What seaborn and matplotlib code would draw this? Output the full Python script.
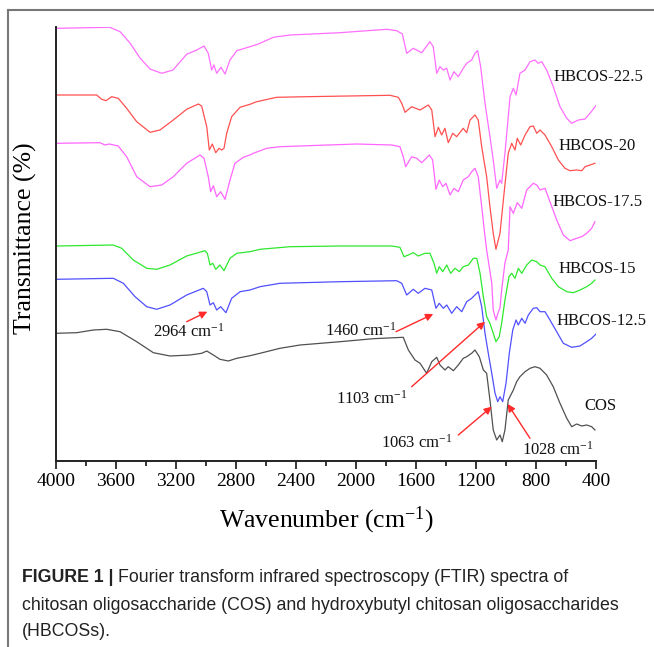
import matplotlib
matplotlib.use("Agg")
import matplotlib.pyplot as plt
import seaborn as sns
import pandas as pd
from matplotlib.lines import Line2D

# ---------------- data (wavenumber cm-1, stacked transmittance a.u.) ----------------
hb225_wn = [4000, 3640, 3573, 3507, 3440, 3373, 3295, 3220, 3129, 3062, 3013, 2985, 2962, 2947, 2929, 2900, 2873,
            2840, 2795, 2707, 2651, 2551, 2440, 2107, 1795, 1729, 1691, 1662, 1618, 1562, 1507, 1485, 1462, 1440,
            1418, 1395, 1373, 1347, 1318, 1285, 1262, 1229, 1207, 1189, 1169, 1140, 1107, 1085, 1062, 1040, 1029,
            1007, 973, 951, 933, 907, 873, 840, 807, 785, 762, 729, 685, 640, 595, 562, 518, 473, 440, 402]
hb225_t = [432.7, 433.7, 429.3, 418, 403, 392, 387.7, 391, 406.7, 411, 415, 407.7, 391, 396, 387.7, 393.7, 387,
           401, 410.3, 414.3, 417, 423.7, 426, 428.3, 431.7, 430.3, 427, 407.7, 412.7, 408.3, 419.3, 414.3, 387.7, 394.3,
           391, 392.7, 381, 389.3, 384.3, 392.7, 397.7, 401, 407.7, 410.3, 394.3, 357.7, 324.3, 301, 272.7, 281, 277.7,
           307.7, 364.3, 372.7, 366, 387.7, 391, 399.3, 401, 397.7, 399.3, 391, 374.3, 354.3, 342.7, 337.7, 341, 342, 347.7, 355]

hb20_wn = [4000, 3729, 3695, 3667, 3629, 3585, 3529, 3462, 3373, 3307, 3218, 3129, 3051, 3029, 2995, 2978, 2958, 2935,
           2913, 2895, 2880, 2862, 2829, 2773, 2707, 2662, 2529, 2329, 1773, 1718, 1695, 1673, 1629, 1573, 1518, 1495,
           1473, 1451, 1429, 1407, 1385, 1355, 1329, 1285, 1262, 1240, 1207, 1185, 1162, 1129, 1107, 1085, 1067, 1040,
           1013, 985, 962, 940, 925, 902, 873, 840, 818, 795, 773, 740, 695, 651, 607, 573, 529, 495, 473, 440, 407]
hb20_t = [366, 366, 361.7, 360.3, 364.3, 362.7, 352.7, 339.3, 328.7, 331, 341, 351.7, 357, 355, 334.3, 311, 317, 308.3,
          312.7, 311, 312.7, 327.7, 344.3, 353.7, 356.7, 359.3, 363.7, 364.3, 365.7, 363.7, 357.7, 348.7, 354.3, 351, 356, 351,
          324.3, 333.7, 326, 332.7, 318.3, 327.7, 324.3, 332.7, 328.3, 341, 346, 341, 314.3, 284.3, 254.3, 227.7, 211.7, 227.7,
          267.7, 307.7, 317.7, 311, 322.7, 316, 326, 334.3, 335, 327.7, 331, 326, 314.3, 301, 292.7, 290.3, 291, 290.3, 294.3, 296, 297.7]

hb175_wn = [4000, 3707, 3673, 3645, 3585, 3529, 3462, 3373, 3295, 3218, 3129, 3040, 3013, 2985, 2969, 2951, 2929, 2902,
            2873, 2840, 2807, 2751, 2707, 2685, 2595, 2507, 1995, 1762, 1707, 1685, 1669, 1629, 1595, 1562, 1511, 1489,
            1467, 1445, 1422, 1400, 1373, 1347, 1318, 1285, 1251, 1229, 1207, 1185, 1162, 1140, 1129, 1095, 1085, 1067,
            1051, 1040, 1029, 1007, 985, 973, 951, 925, 895, 862, 818, 795, 773, 740, 707, 662, 618, 573, 529, 495, 462, 429, 407]
hb175_t = [317.7, 318.3, 316, 317, 315, 304.3, 284.3, 274.3, 276, 284.3, 297.7, 306, 302.7, 284.3, 269.3, 275.3, 264.3, 269.3,
           261.7, 281, 297.7, 303.7, 306, 307.7, 312.7, 314.3, 317, 316, 314.3, 304.3, 294.3, 304.3, 302.7, 298.3, 306, 301,
           271.7, 281, 274.3, 277.7, 266, 272.7, 269.3, 281, 284.3, 289.3, 292.7, 284.3, 254.3, 224.3, 211, 178, 151, 141,
           149.3, 153, 171, 198, 211, 254.3, 247.7, 258.3, 252.7, 271, 277.7, 276, 271, 272.7, 259.3, 241, 226, 220.3, 222.7, 224.3, 227.7, 232.7, 239.3]

hb15_wn = [4000, 3618, 3562, 3485, 3395, 3329, 3240, 3129, 3007, 2991, 2973, 2955, 2935, 2907, 2880, 2840, 2795, 2707,
           2640, 2440, 2107, 1762, 1707, 1680, 1651, 1618, 1585, 1540, 1507, 1480, 1462, 1445, 1422, 1395, 1369, 1340,
           1311, 1285, 1251, 1218, 1195, 1173, 1151, 1129, 1107, 1085, 1067, 1045, 1029, 1007, 980, 962, 940, 918, 895,
           862, 829, 795, 773, 740, 695, 651, 595, 551, 507, 462, 429, 407]
hb15_t = [215, 216, 212.7, 201, 192.7, 191.7, 196, 205, 210.3, 207.7, 196, 197.7, 191.7, 196, 190.3, 202.7, 207.7, 209.3,
          211.7, 214.3, 215, 215, 213.7, 204.3, 206, 208.3, 205, 207.7, 207.7, 197.7, 187.7, 194.3, 189.3, 196, 187.7, 192.7,
          189.3, 194.3, 196, 202.7, 202.7, 187.7, 164.3, 144.3, 137.7, 127.7, 119.3, 124.3, 137.7, 161, 184.3, 187.7, 182.7, 192.7, 187.7,
          196, 201, 199.3, 196, 194.3, 182.7, 174.3, 169.3, 168.3, 171, 174.3, 177.7, 181]

hb125_wn = [4000, 3618, 3551, 3473, 3395, 3329, 3240, 3129, 3018, 2995, 2973, 2951, 2929, 2902, 2867, 2829, 2773, 2707,
            2640, 2507, 2107, 1729, 1695, 1662, 1618, 1585, 1540, 1495, 1467, 1445, 1418, 1395, 1362, 1329, 1295, 1262,
            1229, 1185, 1162, 1140, 1118, 1095, 1073, 1055, 1040, 1022, 1000, 978, 955, 933, 918, 895, 873, 851, 818, 795,
            773, 740, 707, 662, 618, 562, 507, 462, 429, 400]
hb125_t = [181.7, 182.7, 177.7, 164.3, 154.3, 151.7, 156, 166, 172.7, 169.3, 156, 158.3, 151, 154.3, 148.3, 162.7, 169.3, 171,
           174.3, 177.7, 179.3, 180.3, 177.7, 166, 171.7, 167.7, 172.7, 171, 152.7, 157.7, 152.7, 156, 147.7, 154.3, 149.3, 159.3,
           162.7, 169.3, 154.3, 127.7, 107.7, 87.7, 67.7, 59.3, 64.3, 59.3, 77.7, 107.7, 131, 141, 136, 142.7, 137.7, 146, 152.7, 153.3,
           149.3, 149.3, 141, 129.3, 117.7, 113.7, 115, 119.3, 122.7, 127]

cos_wn = [4000, 3862, 3751, 3662, 3573, 3462, 3351, 3240, 3107, 3029, 2995, 2951, 2907, 2851, 2795, 2707, 2640, 2507,
          2373, 2107, 1885, 1685, 1651, 1607, 1573, 1529, 1495, 1462, 1440, 1407, 1385, 1351, 1318, 1285, 1262, 1229,
          1207, 1178, 1151, 1129, 1107, 1085, 1062, 1040, 1025, 1007, 985, 951, 929, 907, 873, 840, 807, 773, 729, 685,
          640, 595, 562, 529, 495, 462, 429, 407]
cos_t = [127.7, 128.3, 131, 131.7, 129.3, 119.3, 108.3, 105, 106, 107.7, 110, 106, 101.7, 100, 102.7, 105.3, 107.7, 112.7,
         116, 119.3, 122.3, 123.7, 111, 101, 97.7, 87.7, 99.3, 103.7, 96, 91, 94.3, 90.3, 96, 102.7, 104.3, 107.7,
         111, 104.3, 91, 87.7, 61, 31, 21, 26, 19.3, 31, 61, 71, 79.3, 84.3, 89.3, 92.7, 94.3, 92.7, 86, 74.3,
         57.7, 42.7, 34.3, 37, 35, 36, 34.3, 31]

series_names = ["HBCOS-22.5", "HBCOS-20", "HBCOS-17.5", "HBCOS-15", "HBCOS-12.5", "COS"]
series_wn = [hb225_wn, hb20_wn, hb175_wn, hb15_wn, hb125_wn, cos_wn]
series_t = [hb225_t, hb20_t, hb175_t, hb15_t, hb125_t, cos_t]
series_colors = ["#FF6EFF", "#FF5050", "#FF66FF", "#2EE82E", "#5050FF", "#505050"]

# label anchor (wavenumber, value)
label_wn = [680, 653, 693, 647, 660, 480]
label_t = [384, 315, 259, 192, 140, 55]

# peak annotations: text, text position, arrow tail, arrow tip
ann_text = ["2964 cm$^{-1}$", "1460 cm$^{-1}$", "1103 cm$^{-1}$", "1063 cm$^{-1}$", "1028 cm$^{-1}$"]
ann_text_pos = [(3113, 129), (1967, 130.3), (1893, 62), (1597, 18.3), (657, 11)]
ann_tail = [(3129, 139.3), (1733, 129.3), (1629, 74.3), (1318, 26), (840, 22.7)]
ann_tip = [(2991, 149.3), (1485, 147), (1140, 139.3), (1095, 54.3), (989, 57)]

xticks = [4000, 3600, 3200, 2800, 2400, 2000, 1600, 1200, 800, 400]

caption_bold = "FIGURE 1 |"
caption_lines = ["Fourier transform infrared spectroscopy (FTIR) spectra of",
                 "chitosan oligosaccharide (COS) and hydroxybutyl chitosan oligosaccharides",
                 "(HBCOSs)."]

# ---------------- figure ----------------
W, H = 654, 647
plt.rcParams["mathtext.fontset"] = "custom"
plt.rcParams["mathtext.rm"] = "Liberation Serif"
plt.rcParams["mathtext.it"] = "Liberation Serif:italic"
plt.rcParams["font.family"] = ["Liberation Serif", "DejaVu Serif"]
plt.rcParams["lines.solid_joinstyle"] = "round"

fig = plt.figure(figsize=(W / 100, H / 100), dpi=100)
ax = fig.add_axes([56 / W, (H - 461) / H, 540 / W, 434 / H])

for name, wn, t, c in zip(series_names, series_wn, series_t, series_colors):
    df = pd.DataFrame({"wn": wn, "t": t})
    sns.lineplot(data=df, x="wn", y="t", color=c, lw=0.9, sort=False, estimator=None, ax=ax)

ax.set_xlim(4000, 400)
ax.set_ylim(0, 434)
ax.set_xticks(xticks)
ax.set_xticks(range(400, 4001, 200), minor=True)
ax.set_xticklabels([str(v) for v in xticks], fontsize=14)
ax.set_yticks([])
ax.tick_params(axis="x", which="major", direction="out", length=6, width=1.1, pad=3)
ax.tick_params(axis="x", which="minor", direction="out", length=3.5, width=1.1)
for s in ["top", "right"]:
    ax.spines[s].set_visible(False)
for s in ["left", "bottom"]:
    ax.spines[s].set_linewidth(1.4)
    ax.spines[s].set_color("#222222")
ax.set_xlabel("")
ax.set_ylabel("")

for name, x, y in zip(series_names, label_wn, label_t):
    ax.text(x, y, name, fontsize=12, ha="left", va="center", color="#111111")

red = "#FF2A2A"
for txt, tp, tail, tip in zip(ann_text, ann_text_pos, ann_tail, ann_tip):
    ax.annotate("", xy=tip, xytext=tail,
                arrowprops=dict(arrowstyle="-|>", color=red, lw=1.0, mutation_scale=11,
                                shrinkA=0, shrinkB=0))
    ax.text(tp[0], tp[1], txt, fontsize=12, ha="center", va="center", color="#111111")

fig.text(326 / W, 1 - 520 / H, "Wavenumber (cm$^{-1}$)", fontsize=18.5, ha="center", va="center")
fig.text(25 / W, 1 - 238 / H, "Transmittance (%)", fontsize=18.5, ha="center", va="center", rotation=90)

# frame
fig.add_artist(Line2D([8 / W, 1], [1 - 10 / H, 1 - 10 / H], color="#777777", lw=1.5))
fig.add_artist(Line2D([8 / W, 8 / W], [0, 1 - 10 / H], color="#777777", lw=1.5))

# caption: fit the longest line to the reference width
cap_font = ["Liberation Sans", "DejaVu Sans"]
fig.canvas.draw()
r = fig.canvas.get_renderer()
probe = fig.text(0, 0, caption_lines[1], fontsize=14, family=cap_font)
pw = probe.get_window_extent(renderer=r).width
probe.remove()
fs = 14 * 603 / pw
ys = [578, 605, 632]
t0 = fig.text(22 / W, 1 - ys[0] / H, caption_bold, fontsize=fs, fontweight="bold", family=cap_font,
              ha="left", va="center", color="#222222")
bb = t0.get_window_extent(renderer=r)
fig.text((bb.x1 + 5) / W, 1 - ys[0] / H, caption_lines[0],
         fontsize=fs, family=cap_font, ha="left", va="center", color="#222222")
fig.text(22 / W, 1 - ys[1] / H, caption_lines[1], fontsize=fs, family=cap_font, ha="left", va="center", color="#222222")
fig.text(22 / W, 1 - ys[2] / H, caption_lines[2], fontsize=fs, family=cap_font, ha="left", va="center", color="#222222")

fig.savefig("out.png", dpi=100)
